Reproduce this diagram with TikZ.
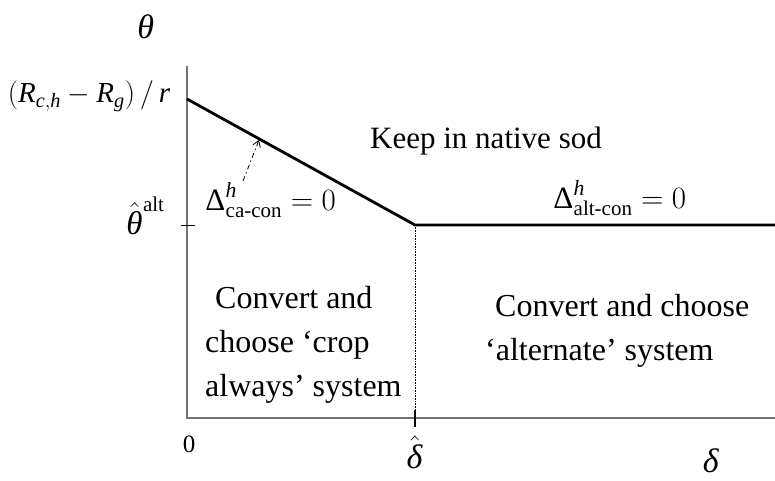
\RequirePackage{fix-cm}
\documentclass[tikz,border=0pt]{standalone}
\usepackage{mathspec}
\setmainfont{Liberation Serif}
\setmathsfont(Latin){Liberation Serif}
\setmathsfont(Greek)[Uppercase=Regular,Lowercase=Italic]{Liberation Serif}
\usetikzlibrary{arrows.meta}

\tikzset{
  axis/.style={line width=1.4pt, black!55},
  frontier/.style={line width=2.8pt, black},
  lbl/.style={inner sep=0pt, font=\fontsize{31}{36}\selectfont},
  region/.style={inner sep=0pt, align=left, font=\fontsize{32}{44}\selectfont},
}
\newcommand{\sublbl}[1]{\mbox{\fontsize{21}{22}\selectfont #1}}

\begin{document}
\begin{tikzpicture}[x=1pt, y=-1pt]
  \useasboundingbox (0,0) rectangle (775,481);

  \coordinate (O)    at (187,418);
  \coordinate (Ytop) at (187,66);
  \coordinate (Xend) at (775,418);
  \coordinate (A)    at (187,99);
  \coordinate (K)    at (415,225);
  \coordinate (E)    at (775,225);
  \coordinate (Kb)   at (415,418);
  \coordinate (P)    at (259,140);
  \coordinate (Q)    at (243,181);

  % Axes
  \draw[axis] (Ytop) -- (O) -- (Xend);

  % Frontiers
  \draw[frontier] (A) -- (K) -- (E);
  \draw[densely dotted, line width=0.6pt] (K) -- (Kb);

  % Ticks
  \draw[line width=1pt] (181,225) -- (195,225);
  \draw[line width=2.6pt] (415,410) -- (415,427);

  % Axis labels
  \node[lbl, font=\fontsize{34}{38}\selectfont] (theta) at (146,27) {$\theta$};
  \node[lbl, font=\fontsize{29}{34}\selectfont, anchor=base] (Amax) at (89,103) {$(R_{c,h}-R_g)\,/\,r$};
  \node[lbl, font=\fontsize{33}{38}\selectfont, anchor=base west] (thalt) at (126,234) {$\hat{\theta}^{\sublbl{alt}}$};
  \node[lbl, font=\fontsize{25}{28}\selectfont] (zero) at (189,444) {0};
  \node[lbl, font=\fontsize{34}{38}\selectfont] (dhat) at (415,452) {$\hat{\delta}$};
  \node[lbl, font=\fontsize{34}{38}\selectfont] (delta) at (711,461) {$\delta$};

  % Frontier labels
  \node[lbl, anchor=base west] (cacon) at (205,210) {$\Delta^{h}_{\sublbl{ca-con}}=0$};
  \node[lbl, anchor=base west] (altcon) at (553,208) {$\Delta^{h}_{\sublbl{alt-con}}=0$};
  \draw[line width=0.8pt, dash pattern=on 5pt off 3pt on 1.5pt off 3pt,
        -{Straight Barb[length=6pt,width=8pt]}] (Q) -- (P);

  % Regions
  \node[lbl, anchor=base west] (keep) at (370,149) {Keep in native sod};
  \node[region, anchor=north west] (crop) at (205,286)
    {\hspace*{10pt}Convert and\\choose `crop\\always' system};
  \node[region, anchor=north west] (alt) at (485,294)
    {\hspace*{10pt}Convert and choose\\`alternate' system};

\end{tikzpicture}
\end{document}
